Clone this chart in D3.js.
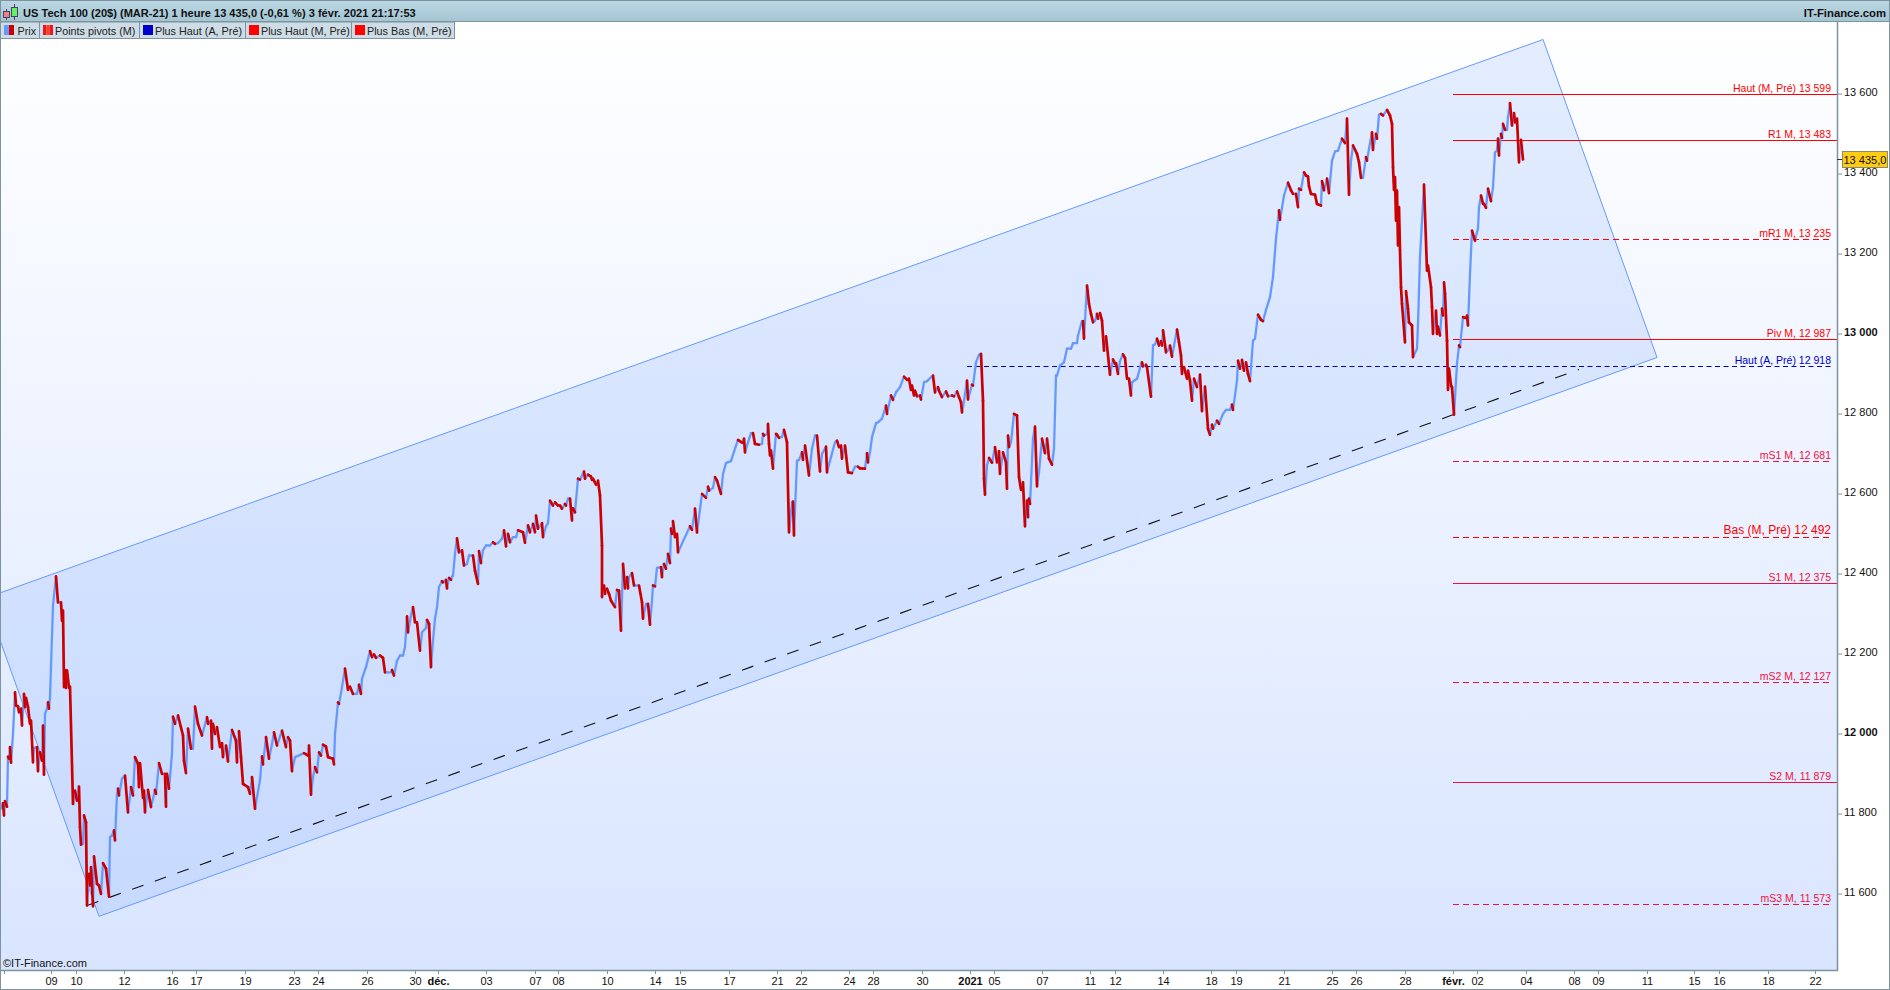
<!DOCTYPE html>
<html>
<head>
<meta charset="utf-8">
<title>US Tech 100</title>
<script src="https://cdn.jsdelivr.net/npm/d3@7"></script>
<style>
  body { margin: 0; background: #fff; }
  text { font-family: "Liberation Sans", Arial, sans-serif; }
</style>
</head>
<body>
<svg id="chart" width="1890" height="990"></svg>
<script>
const titleText = "US Tech 100 (20$) (MAR-21) 1 heure 13 435,0 (-0,61 %) 3 févr. 2021 21:17:53";
const siteText = "IT-Finance.com";
const copyrightText = "©IT-Finance.com";
const legendLabels = ["Prix", "Points pivots (M)", "Plus Haut (A, Pré)", "Plus Haut (M, Pré)", "Plus Bas (M, Pré)"];

const priceTicks = [11600, 11800, 12000, 12200, 12400, 12600, 12800, 13000, 13200, 13400, 13600];
const lastPrice = 13435;

const timeTickBars = [4, 51, 76, 124, 172, 196, 245, 294, 318, 367, 415, 438, 486, 535, 558, 607, 655, 680, 729, 777, 801, 849, 873, 922, 970, 994, 1042, 1090, 1115, 1163, 1211, 1236, 1284, 1332, 1356, 1405, 1453, 1477, 1526, 1574, 1598, 1647, 1694, 1719, 1768, 1815];
const timeTickLabels = ["", "09", "10", "12", "16", "17", "19", "23", "24", "26", "30", "déc.", "03", "07", "08", "10", "14", "15", "17", "21", "22", "24", "28", "30", "2021", "05", "07", "11", "12", "14", "18", "19", "21", "25", "26", "28", "févr.", "02", "04", "08", "09", "11", "15", "16", "18", "22"];
const boldTimeLabels = ["déc.", "2021", "févr."];

const pivotNames = ["Haut (M, Pré)", "R1 M,", "mR1 M,", "Piv M,", "Haut (A, Pré)", "mS1 M,", "Bas (M, Pré)", "S1 M,", "mS2 M,", "S2 M,", "mS3 M,"];
const pivotValues = [13599, 13483, 13235, 12987, 12918, 12681, 12492, 12375, 12127, 11879, 11573];
const pivotStartBar = 1453;
const yearHighStartBar = 967;

// regression channel corners and its centre line
const channelBars = [-15, 1543, 1657, 99];
const channelPrices = [12338, 13735, 12940, 11543];
const trendBars = [87, 1579];
const trendPrices = [11570, 12910];

// [bar, price] pairs
const priceSeries = [
  [1,11812],[3,11826],[4,11795],[5,11831],[7,11817],[8,11942],[9,11937],[10,11966],[11,11927],[13,11999],
  [15,12103],[16,12070],[18,12068],[19,12053],[21,12062],[22,12020],[24,12099],[25,12066],[26,12089],[28,12066],
  [30,12024],[31,12032],[33,11928],[34,11964],[37,11966],[38,11906],[40,11953],[42,11932],[43,12020],[44,11897],
  [45,12049],[47,12062],[48,12078],[49,12062],[50,12091],[53,12320],[56,12393],[58,12328],[61,12328],[62,12282],
  [63,12307],[64,12116],[65,12158],[66,12114],[67,12158],[69,12114],[70,12117],[73,11824],[75,11857],[77,11832],
  [79,11867],[80,11766],[81,11722],[83,11724],[84,11795],[86,11778],[87,11570],[89,11649],[90,11620],[91,11666],
  [93,11568],[94,11693],[97,11624],[99,11620],[101,11599],[103,11676],[106,11662],[109,11592],[110,11741],[112,11745],
  [114,11758],[115,11733],[117,11849],[118,11862],[119,11845],[122,11887],[125,11895],[128,11803],[131,11866],[133,11845],
  [135,11941],[138,11924],[139,11866],[140,11926],[143,11839],[144,11857],[145,11803],[148,11859],[151,11816],[155,11859],
  [156,11849],[159,11926],[162,11899],[165,11899],[166,11817],[167,11899],[169,11862],[172,11949],[173,12042],[175,12024],
  [178,12045],[183,11995],[184,11932],[186,11901],[188,12012],[191,11962],[193,11962],[195,12067],[198,12024],[202,11995],
  [207,12041],[208,12024],[211,12032],[212,11962],[213,12024],[215,11999],[217,12016],[220,11966],[222,11976],[223,11941],
  [226,11970],[228,11930],[232,12009],[236,11982],[237,11928],[239,12006],[241,11941],[243,11874],[248,11866],[250,11849],
  [252,11891],[255,11812],[260,11883],[262,11943],[263,11923],[266,11991],[269,11937],[272,11974],[274,12003],[277,11970],
  [282,12007],[286,11966],[288,11991],[290,11982],[292,11906],[295,11941],[304,11951],[308,11945],[309,11970],[311,11847],
  [313,11891],[315,11916],[317,11903],[319,11953],[321,11945],[323,11972],[326,11967],[328,11941],[333,11937],[334,11923],
  [335,11999],[338,12078],[339,12074],[341,12101],[345,12162],[348,12109],[350,12117],[353,12099],[357,12099],[359,12122],
  [361,12099],[362,12137],[366,12166],[370,12206],[372,12191],[374,12198],[376,12189],[380,12195],[383,12189],[385,12153],
  [391,12153],[392,12159],[394,12145],[397,12182],[400,12195],[403,12195],[405,12216],[407,12293],[408,12253],[411,12295],
  [413,12316],[415,12278],[417,12278],[420,12207],[422,12253],[426,12264],[427,12284],[429,12274],[431,12166],[433,12232],
  [435,12287],[437,12316],[439,12366],[442,12381],[443,12378],[446,12384],[447,12363],[449,12389],[451,12384],[452,12392],
  [453,12395],[455,12449],[457,12488],[459,12453],[462,12458],[464,12420],[467,12424],[469,12445],[473,12445],[475,12407],
  [478,12374],[479,12456],[481,12426],[483,12458],[486,12470],[490,12470],[493,12478],[495,12474],[498,12476],[502,12487],
  [504,12508],[506,12468],[508,12499],[510,12478],[513,12491],[516,12491],[518,12508],[523,12503],[525,12477],[528,12520],
  [530,12503],[533,12524],[535,12503],[536,12545],[538,12512],[542,12526],[543,12491],[546,12518],[548,12526],[550,12582],
  [553,12570],[555,12578],[558,12570],[560,12570],[562,12562],[565,12574],[566,12570],[568,12587],[570,12587],[572,12533],
  [573,12563],[575,12553],[578,12637],[580,12635],[582,12645],[584,12655],[585,12637],[588,12647],[591,12642],[592,12634],
  [593,12637],[596,12622],[598,12632],[600,12595],[602,12470],[602,12341],[603,12370],[604,12370],[605,12349],[607,12362],
  [609,12349],[611,12332],[615,12316],[617,12359],[619,12357],[621,12257],[623,12424],[625,12363],[627,12391],[628,12363],
  [629,12391],[632,12401],[634,12370],[639,12370],[642,12328],[643,12287],[646,12324],[648,12324],[650,12272],[652,12332],
  [653,12370],[655,12368],[657,12414],[661,12416],[662,12391],[664,12424],[666,12412],[668,12449],[670,12426],[671,12512],
  [672,12499],[673,12531],[675,12491],[677,12499],[678,12453],[690,12518],[692,12509],[695,12562],[697,12503],[702,12599],
  [706,12589],[708,12617],[709,12607],[713,12614],[715,12641],[717,12632],[721,12599],[723,12649],[726,12676],[728,12678],
  [731,12681],[735,12712],[738,12734],[742,12727],[744,12737],[745,12703],[748,12728],[751,12751],[753,12751],[755,12724],
  [759,12722],[762,12724],[763,12749],[764,12745],[767,12749],[768,12774],[769,12724],[770,12695],[771,12707],[773,12662],
  [776,12749],[777,12747],[779,12739],[782,12742],[784,12759],[787,12728],[789,12503],[792,12578],[793,12580],[794,12495],
  [797,12682],[799,12684],[802,12703],[803,12684],[805,12720],[809,12645],[812,12712],[815,12745],[817,12745],[820,12655],
  [822,12699],[826,12717],[827,12653],[831,12691],[835,12728],[837,12732],[839,12716],[841,12720],[842,12687],[845,12720],
  [848,12653],[852,12651],[855,12667],[858,12667],[860,12663],[865,12662],[867,12701],[868,12678],[870,12703],[872,12741],
  [876,12776],[878,12778],[882,12787],[886,12820],[887,12799],[891,12845],[893,12834],[896,12853],[900,12866],[904,12892],
  [907,12884],[909,12887],[911,12859],[912,12870],[914,12845],[915,12857],[917,12843],[920,12845],[921,12835],[924,12878],
  [927,12881],[933,12895],[935,12853],[938,12866],[939,12857],[942,12841],[946,12855],[948,12843],[952,12845],[954,12843],
  [957,12855],[959,12841],[961,12828],[962,12803],[963,12816],[967,12882],[968,12835],[972,12872],[973,12870],[976,12928],
  [979,12947],[981,12949],[983,12832],[984,12637],[985,12597],[987,12670],[989,12689],[992,12677],[995,12716],[997,12678],
  [999,12706],[1000,12649],[1003,12703],[1006,12678],[1007,12612],[1008,12745],[1009,12716],[1011,12728],[1014,12799],[1017,12795],
  [1019,12641],[1021,12609],[1023,12628],[1025,12518],[1027,12582],[1028,12541],[1029,12587],[1030,12574],[1033,12737],[1035,12767],
  [1037,12618],[1039,12653],[1042,12737],[1045,12701],[1047,12737],[1049,12687],[1052,12672],[1054,12712],[1056,12895],[1057,12895],
  [1060,12920],[1064,12928],[1067,12962],[1071,12962],[1073,12976],[1077,12976],[1078,12995],[1082,13031],[1083,13031],[1084,12987],
  [1087,13120],[1089,13074],[1091,13049],[1093,13028],[1095,13032],[1097,13049],[1098,13037],[1100,13051],[1102,13032],[1104,12957],
  [1106,12993],[1110,12897],[1113,12935],[1115,12924],[1116,12926],[1118,12899],[1120,12931],[1123,12948],[1125,12939],[1127,12887],
  [1129,12887],[1131,12845],[1132,12878],[1137,12887],[1138,12895],[1141,12924],[1142,12928],[1143,12918],[1146,12922],[1147,12916],
  [1151,12842],[1153,12970],[1155,12973],[1157,12987],[1159,12970],[1161,12981],[1162,12970],[1163,13008],[1166,12953],[1168,12958],
  [1170,12970],[1172,12942],[1177,13010],[1179,12978],[1181,12945],[1182,12899],[1184,12916],[1187,12887],[1188,12907],[1190,12882],
  [1192,12832],[1194,12887],[1197,12866],[1200,12897],[1202,12806],[1205,12867],[1208,12762],[1210,12747],[1212,12772],[1213,12762],
  [1217,12782],[1219,12774],[1223,12799],[1226,12809],[1230,12809],[1232,12822],[1233,12809],[1237,12882],[1238,12932],[1240,12912],
  [1242,12934],[1244,12907],[1246,12928],[1248,12899],[1250,12881],[1253,12982],[1255,12987],[1257,13028],[1258,13047],[1261,13034],
  [1263,13031],[1266,13059],[1270,13091],[1273,13141],[1276,13237],[1279,13308],[1280,13284],[1284,13345],[1288,13377],[1291,13358],
  [1293,13349],[1296,13349],[1298,13316],[1299,13362],[1301,13359],[1304,13403],[1306,13395],[1308,13392],[1309,13368],[1311,13349],
  [1315,13347],[1317,13324],[1321,13320],[1322,13381],[1324,13358],[1327,13387],[1329,13351],[1332,13432],[1335,13455],[1338,13457],
  [1342,13487],[1345,13476],[1347,13537],[1349,13347],[1351,13432],[1353,13470],[1357,13449],[1359,13428],[1361,13389],[1363,13389],
  [1366,13441],[1367,13432],[1369,13462],[1372,13503],[1373,13459],[1376,13499],[1377,13487],[1379,13547],[1381,13549],[1383,13545],
  [1387,13559],[1390,13545],[1392,13524],[1393,13416],[1394,13359],[1395,13391],[1396,13282],[1397,13357],[1398,13220],[1399,13316],
  [1400,13208],[1401,13116],[1402,13074],[1405,12978],[1406,13106],[1408,13062],[1409,13028],[1412,13020],[1413,12941],[1417,12962],
  [1418,13024],[1420,13191],[1424,13372],[1427,13157],[1428,13170],[1431,13116],[1432,13066],[1433,12999],[1436,13057],[1437,12999],
  [1438,13017],[1440,12995],[1442,13062],[1443,13045],[1444,13128],[1445,13099],[1447,12982],[1448,12859],[1449,12912],[1451,12870],
  [1452,12866],[1454,12797],[1456,12882],[1457,12924],[1459,12970],[1460,12966],[1462,13016],[1463,13041],[1465,13039],[1467,13045],
  [1468,13020],[1470,13149],[1472,13257],[1475,13232],[1477,13253],[1478,13262],[1479,13316],[1481,13345],[1483,13324],[1484,13324],
  [1486,13314],[1488,13362],[1491,13331],[1493,13366],[1495,13453],[1497,13457],[1498,13487],[1499,13445],[1501,13499],[1502,13489],
  [1503,13524],[1505,13509],[1507,13509],[1508,13541],[1510,13576],[1512,13520],[1514,13551],[1515,13528],[1517,13537],[1519,13428],
  [1521,13484],[1523,13435]
];

const width = 1890;
const height = 990;
const plot = { left: 1, right: 1837, top: 22, bottom: 970 };
const lineColor = "#7d93a0";
const upColor = "#6699ff";
const downColor = "#cc0000";

const svg = d3.select("#chart");
const fmtThousands = d3.formatLocale({ thousands: " ", grouping: [3], decimal: ",", currency: ["", ""] }).format(",d");

// 1 hourly bar is about one pixel wide on this chart
const x = d3.scaleLinear().domain([0, 1837]).range([0, plot.right]);
const y = d3.scaleLinear().domain([11600, 13600]).range([893.5, 93.5]);

const defs = svg.append("defs");

const addGradient = (id, stops) => {
  const g = defs.append("linearGradient").attr("id", id).attr("x1", 0).attr("x2", 0).attr("y1", 0).attr("y2", 1);
  stops.forEach((s, i) => g.append("stop").attr("offset", i / (stops.length - 1)).attr("stop-color", s));
};
addGradient("plotBg", ["#ffffff", "#d9e5ff"]);
addGradient("headerBg", ["#bcd8e4", "#a4c5d3"]);

defs.append("clipPath").attr("id", "plotClip").append("rect")
  .attr("x", plot.left).attr("y", plot.top)
  .attr("width", plot.right - plot.left).attr("height", plot.bottom - plot.top);

// Plot background
svg.append("rect")
  .attr("x", plot.left).attr("y", plot.top)
  .attr("width", plot.right - plot.left).attr("height", plot.bottom - plot.top)
  .attr("fill", "url(#plotBg)");

const plotArea = svg.append("g").attr("clip-path", "url(#plotClip)");

// Channel
plotArea.append("polygon")
  .attr("points", channelBars.map((b, i) => [x(b), y(channelPrices[i])].join(",")).join(" "))
  .attr("fill", upColor)
  .attr("fill-opacity", 0.17)
  .attr("stroke", upColor)
  .attr("stroke-width", 1);

plotArea.append("line")
  .attr("x1", x(trendBars[0])).attr("y1", y(trendPrices[0]))
  .attr("x2", x(trendBars[1])).attr("y2", y(trendPrices[1]))
  .attr("stroke", "#111")
  .attr("stroke-width", 1.1)
  .attr("stroke-dasharray", "12 12");

// Pivot levels
pivotNames.forEach((name, i) => {
  const isYear = name.includes("(A,");
  const dashed = isYear || name.startsWith("m") || name.startsWith("Bas");
  let color = "#ff0000";
  if (isYear) color = "#0000cc";
  else if (/S\d/.test(name)) color = "#f01040";
  const py = Math.floor(y(pivotValues[i]) + 0.3) + 0.5;

  plotArea.append("line")
    .attr("x1", x(isYear ? yearHighStartBar : pivotStartBar))
    .attr("x2", dashed ? plot.right - 4 : plot.right)
    .attr("y1", py).attr("y2", py)
    .attr("stroke", color)
    .attr("stroke-dasharray", dashed ? (isYear ? "5 3.5" : "6 4") : null);

  plotArea.append("text")
    .attr("x", 1831)
    .attr("y", py - (name.startsWith("Bas") ? 4 : 3))
    .attr("text-anchor", "end")
    .attr("fill", color)
    .style("font-size", name.startsWith("Bas") ? "12px" : "10.5px")
    .text(`${name} ${fmtThousands(pivotValues[i])}`);
});

// Price line, rising legs in blue and falling legs in red on top
const legs = d3.pairs(priceSeries);
const drawLegs = (data, color, w) => {
  plotArea.append("g")
    .attr("stroke", color)
    .attr("stroke-width", w)
    .attr("stroke-linecap", "round")
    .selectAll("line")
    .data(data)
    .join("line")
    .attr("x1", (d) => x(d[0][0]))
    .attr("y1", (d) => y(d[0][1]))
    .attr("x2", (d) => x(d[1][0]))
    .attr("y2", (d) => y(d[1][1]));
};
drawLegs(legs.filter((d) => d[1][1] >= d[0][1]), upColor, 2.3);
drawLegs(legs.filter((d) => d[1][1] < d[0][1]), downColor, 2.7);

// Copyright
svg.append("text").attr("x", 3).attr("y", 967).style("font-size", "11px").attr("fill", "#111").text(copyrightText);

// Plot border
svg.append("path")
  .attr("d", `M${plot.right + 0.5},${plot.top}V${plot.bottom + 0.5}H0`)
  .attr("fill", "none")
  .attr("stroke", lineColor)
  .attr("stroke-width", 1.5);

// Axes
const xAxis = svg.append("g")
  .attr("transform", `translate(0,${plot.bottom})`)
  .call(d3.axisBottom(x).tickValues(timeTickBars).tickSize(4).tickPadding(3).offset(0.5)
    .tickFormat((d, i) => timeTickLabels[i]));
xAxis.select(".domain").remove();
xAxis.selectAll("line").attr("stroke", lineColor);
xAxis.selectAll("text")
  .style("font-family", '"Liberation Sans", Arial, sans-serif')
  .style("font-size", "11px")
  .style("font-weight", (d, i) => (boldTimeLabels.includes(timeTickLabels[i]) ? "bold" : "normal"))
  .attr("fill", "#111");

const yAxis = svg.append("g")
  .attr("transform", `translate(${plot.right},0)`)
  .call(d3.axisRight(y).tickValues(priceTicks).tickSize(5).tickPadding(2).tickFormat(fmtThousands));
yAxis.select(".domain").remove();
yAxis.selectAll("line").attr("stroke", lineColor);
yAxis.selectAll("text")
  .attr("dy", "0.22em")
  .style("font-family", '"Liberation Sans", Arial, sans-serif')
  .style("font-size", "11px")
  .style("font-weight", (d) => (d % 1000 === 0 ? "bold" : "normal"))
  .attr("fill", "#111");

// Last price tag
const lastY = y(lastPrice);
svg.append("line")
  .attr("x1", plot.right).attr("x2", plot.right + 5)
  .attr("y1", lastY).attr("y2", lastY)
  .attr("stroke", "#333");
svg.append("rect")
  .attr("x", 1842.5).attr("y", lastY - 8)
  .attr("width", 45).attr("height", 16)
  .attr("fill", "#ffcc11")
  .attr("stroke", "#8a8a70");
svg.append("text")
  .attr("x", 1843.5).attr("y", lastY + 4)
  .style("font-size", "11px")
  .attr("fill", "#111")
  .text(d3.format(",.1f")(lastPrice).replace(",", " ").replace(".", ","));

// Header
svg.append("rect").attr("x", 0).attr("y", 0).attr("width", width).attr("height", 21).attr("fill", "url(#headerBg)");
svg.append("line").attr("x1", 0).attr("x2", width).attr("y1", 21.5).attr("y2", 21.5).attr("stroke", lineColor);
svg.append("text").attr("x", 23).attr("y", 17).style("font-size", "11.07px").style("font-weight", "bold").attr("fill", "#111").text(titleText);
svg.append("text").attr("x", 1886).attr("y", 17).attr("text-anchor", "end").style("font-size", "11.3px").style("font-weight", "bold").attr("fill", "#111").text(siteText);

// Header candle icon
const icon = svg.append("g").attr("stroke", "#446");
icon.append("line").attr("x1", 6.5).attr("x2", 6.5).attr("y1", 9).attr("y2", 20);
icon.append("rect").attr("x", 3.5).attr("y", 11.5).attr("width", 6).attr("height", 6).attr("fill", "#f08080");
icon.append("line").attr("x1", 14.5).attr("x2", 14.5).attr("y1", 4).attr("y2", 20);
icon.append("rect").attr("x", 11.5).attr("y", 7.5).attr("width", 6).attr("height", 9).attr("fill", "#66ee66");

// Legend tabs
const tabEdges = [0, 39, 139, 245, 351, 454];
const tabSwatches = [
  [upColor, downColor],
  ["#ee1133", "#ff4400", "#ee1133"],
  ["#0000cc"],
  ["#ff0000"],
  ["#ff0000"]
];
legendLabels.forEach((label, i) => {
  const tx = tabEdges[i];
  const tab = svg.append("g").attr("transform", `translate(${tx},22)`);
  tab.append("rect")
    .attr("x", 0.5).attr("y", 0)
    .attr("width", tabEdges[i + 1] - tx).attr("height", 16.5)
    .attr("fill", "#cddce5")
    .attr("stroke", lineColor);
  const sw = tabSwatches[i];
  sw.forEach((c, j) => {
    tab.append("rect")
      .attr("x", 4 + (j * 10) / sw.length)
      .attr("y", 3)
      .attr("width", 10 / sw.length)
      .attr("height", 10)
      .attr("fill", c);
  });
  tab.append("text").attr("x", i === 0 ? 17.5 : 16).attr("y", 12.5).style("font-size", "10.8px").attr("fill", "#222").text(label);
});

// Outer frame
svg.append("rect")
  .attr("x", 0.5).attr("y", 0.5)
  .attr("width", width - 1).attr("height", height - 1)
  .attr("fill", "none")
  .attr("stroke", lineColor);
</script>
</body>
</html>
